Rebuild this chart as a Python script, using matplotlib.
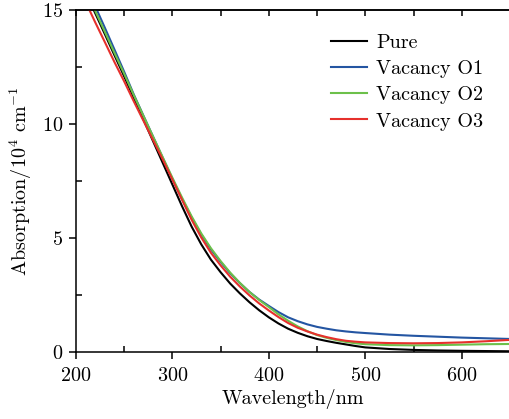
import matplotlib
matplotlib.use("Agg")
import matplotlib.pyplot as plt
from matplotlib.ticker import MultipleLocator

plt.rcParams["font.family"] = "serif"
plt.rcParams["font.serif"] = ["cmr10"]
plt.rcParams["mathtext.fontset"] = "cm"
plt.rcParams["axes.formatter.use_mathtext"] = True

# ── data ──────────────────────────────────────────────────────────────────────
wavelength = [200, 210, 220, 230, 240, 250, 260, 270, 280, 290, 300, 310, 320,
              330, 340, 350, 360, 370, 380, 390, 400, 410, 420, 430, 440, 450,
              460, 470, 480, 490, 500, 525, 550, 575, 600, 625, 650]

pure = [16.7, 15.8, 14.87, 13.95, 13.02, 12.1, 11.15, 10.2, 9.25, 8.3, 7.35,
        6.4, 5.5, 4.72, 4.05, 3.5, 3.0, 2.57, 2.18, 1.83, 1.52, 1.25, 1.02,
        0.84, 0.69, 0.57, 0.48, 0.4, 0.33, 0.26, 0.2, 0.13, 0.09, 0.065, 0.05,
        0.04, 0.03]

vac_o1 = [16.95, 16.1, 15.17, 14.23, 13.27, 12.3, 11.3, 10.37, 9.45, 8.52, 7.6,
          6.72, 5.9, 5.15, 4.5, 3.95, 3.45, 3.02, 2.63, 2.3, 2.02, 1.75, 1.52,
          1.35, 1.21, 1.1, 1.02, 0.95, 0.9, 0.86, 0.83, 0.76, 0.71, 0.67, 0.63,
          0.6, 0.57]

vac_o2 = [16.8, 15.9, 14.97, 14.05, 13.12, 12.21, 11.27, 10.36, 9.45, 8.55, 7.65,
          6.78, 5.95, 5.2, 4.55, 3.99, 3.48, 3.03, 2.63, 2.28, 1.97, 1.65, 1.37,
          1.12, 0.91, 0.74, 0.62, 0.52, 0.44, 0.38, 0.34, 0.3, 0.29, 0.3, 0.32,
          0.34, 0.35]

vac_o3 = [16.25, 15.37, 14.47, 13.6, 12.72, 11.88, 11.0, 10.15, 9.3, 8.45, 7.57,
          6.68, 5.8, 5.02, 4.35, 3.8, 3.3, 2.87, 2.48, 2.13, 1.82, 1.53, 1.27,
          1.06, 0.9, 0.76, 0.65, 0.56, 0.49, 0.45, 0.42, 0.39, 0.38, 0.39, 0.42,
          0.47, 0.53]

labels = ["Pure", "Vacancy O1", "Vacancy O2", "Vacancy O3"]
colors = ["black", "#2455a2", "#6cc04a", "#e6302c"]

FS = 14.5

# ── figure ────────────────────────────────────────────────────────────────────
fig = plt.figure(figsize=(5.09, 4.19), dpi=100)
ax = fig.add_axes([0.149, 0.160, 0.853, 0.816])

for series, lab, col in zip([pure, vac_o1, vac_o2, vac_o3], labels, colors):
    ax.plot(wavelength, series, color=col, lw=1.5, label=lab)

ax.set_xlim(200, 650)
ax.set_ylim(0, 15)
ax.spines["right"].set_visible(False)
for s in ["left", "bottom", "top"]:
    ax.spines[s].set_linewidth(1.1)

ax.xaxis.set_major_locator(MultipleLocator(100))
ax.xaxis.set_minor_locator(MultipleLocator(50))
ax.yaxis.set_major_locator(MultipleLocator(5))
ax.yaxis.set_minor_locator(MultipleLocator(2.5))
ax.tick_params(which="major", direction="out", length=5, width=1.1,
               labelsize=FS, pad=4)
ax.tick_params(axis="x", which="major", pad=6)
ax.tick_params(which="minor", direction="in", length=4, width=1.1)

top = ax.secondary_xaxis("top")
top.xaxis.set_major_locator(MultipleLocator(50))
top.tick_params(direction="in", length=4, width=1.1, labeltop=False)
top.spines["top"].set_linewidth(1.1)

ax.set_xlabel("Wavelength/nm", fontsize=FS, labelpad=3)
ax.set_ylabel(r"Absorption/$10^4$ cm$^{-1}$", fontsize=FS, labelpad=6)

ax.legend(loc="upper left", frameon=False, fontsize=FS, handlelength=1.8,
          handletextpad=0.45, labelspacing=0.4, borderpad=0, borderaxespad=0,
          bbox_to_anchor=(0.587, 0.93))

fig.savefig("out.png", dpi=100)
